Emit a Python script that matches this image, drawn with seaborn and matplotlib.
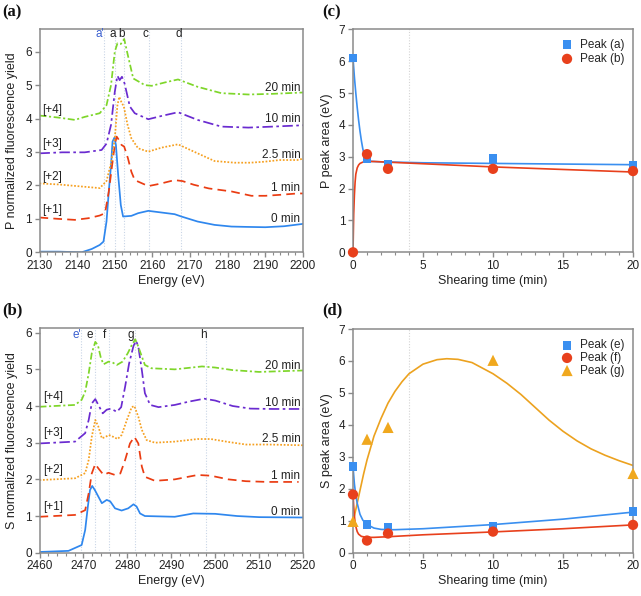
import matplotlib
matplotlib.use("Agg")
import matplotlib.pyplot as plt
import seaborn as sns
import pandas as pd
from matplotlib.ticker import MultipleLocator

# ---------------- data: panel (a) P K-edge spectra (offset already included) -------------
p_e_0 = [2130, 2135, 2141.2, 2143.9, 2146, 2147, 2147.8, 2148.4, 2149, 2149.4, 2149.9, 2150.3,
         2150.9, 2151.6, 2152.2, 2154.4, 2156.2, 2158.9, 2162.4, 2165.9, 2167.7, 2172, 2176.5,
         2181, 2185, 2190, 2195, 2200]
p_y_0 = [0.02, 0.02, 0.0, 0.1, 0.22, 0.32, 0.92, 1.81, 2.61, 3.31, 3.43, 3.21,
         2.31, 1.41, 1.07, 1.09, 1.17, 1.24, 1.19, 1.14, 1.07, 0.92, 0.82,
         0.77, 0.76, 0.75, 0.78, 0.85]

p_e_1 = [2130, 2135, 2139.4, 2143, 2146, 2147.4, 2148.4, 2149.3, 2150, 2150.5, 2151.1, 2151.8,
         2152.5, 2153.5, 2154.4, 2155.3, 2158.9, 2162, 2165.9, 2168, 2171, 2175, 2181, 2186.3,
         2190, 2194, 2198.5, 2200]
p_y_1 = [1.04, 1.0, 0.97, 1.02, 1.1, 1.17, 1.81, 2.61, 3.21, 3.46, 3.36, 3.21,
         3.16, 2.81, 2.41, 2.16, 1.98, 2.05, 2.16, 2.13, 2.02, 1.91, 1.82, 1.69,
         1.69, 1.72, 1.76, 1.76]

p_e_25 = [2130, 2135, 2142, 2146, 2147.8, 2149.1, 2150, 2150.7, 2151.2, 2151.8, 2152.4, 2153.4,
          2154.4, 2156.2, 2158.9, 2162.4, 2166.8, 2172, 2176.5, 2181.8, 2186, 2189.8, 2193.8,
          2198.5, 2200]
p_y_25 = [2.06, 2.03, 1.96, 1.92, 2.13, 2.71, 3.41, 4.4, 4.65, 4.48, 4.36, 3.81,
          3.41, 3.11, 3.01, 3.13, 3.23, 2.96, 2.73, 2.68, 2.68, 2.71, 2.76,
          2.76, 2.8]

p_e_10 = [2130, 2136, 2142, 2146.5, 2147.8, 2149, 2150, 2150.7, 2151.3, 2151.9, 2152.6, 2154,
          2155.3, 2158.9, 2162.5, 2166.8, 2172, 2178.3, 2185.5, 2192, 2200]
p_y_10 = [2.96, 2.99, 2.99, 3.06, 3.25, 3.81, 4.8, 5.28, 5.15, 5.25, 5.05, 4.36,
          4.16, 3.98, 4.08, 4.19, 3.96, 3.76, 3.73, 3.76, 3.8]

p_e_20 = [2130, 2135, 2139.4, 2142, 2146, 2147.8, 2149, 2150, 2150.7, 2151.6, 2152.5, 2153.4,
          2154.9, 2158, 2159.8, 2163.3, 2166.8, 2172, 2178.3, 2185.5, 2192, 2200]
p_y_20 = [4.09, 4.03, 3.96, 4.05, 4.16, 4.4, 5.0, 6.0, 6.25, 6.23, 6.38, 5.93,
          5.2, 5.0, 4.98, 5.08, 5.17, 4.95, 4.76, 4.72, 4.74, 4.78]

# ---------------- data: panel (b) S K-edge spectra -------------
s_e_0 = [2460, 2466.6, 2469.6, 2470.4, 2471, 2471.5, 2472.0, 2472.6, 2473.4, 2474.2, 2475.3,
         2476.1, 2477.2, 2478.7, 2480.2, 2481.4, 2482.1, 2482.9, 2484, 2490.8, 2495, 2500,
         2505, 2510, 2520]
s_y_0 = [0.02, 0.05, 0.21, 0.62, 1.25, 1.71, 1.82, 1.71, 1.53, 1.35, 1.44,
         1.4, 1.21, 1.15, 1.21, 1.32, 1.26, 1.07, 1.0, 0.98, 1.07, 1.06,
         1.0, 0.97, 0.96]

s_e_1 = [2460, 2468.1, 2470.4, 2471.2, 2471.9, 2472.7, 2473.4, 2474.6, 2475.7, 2477.2, 2478.4,
         2479.5, 2480.6, 2481.6, 2482.5, 2483.3, 2484, 2486.3, 2490.8, 2496, 2499, 2503, 2507,
         2512, 2519]
s_y_1 = [0.98, 1.03, 1.16, 1.62, 2.16, 2.42, 2.3, 2.12, 2.18, 2.12, 2.16,
         2.53, 2.98, 3.16, 2.98, 2.35, 2.07, 1.96, 2.0, 2.12, 2.1, 2.0, 1.95,
         1.93, 1.93]

s_e_25 = [2460, 2468.1, 2470.4, 2471.2, 2471.9, 2472.7, 2473.4, 2474.2, 2474.9, 2475.8, 2476.8,
          2477.8, 2478.7, 2479.9, 2481.0, 2481.6, 2482.5, 2483.3, 2484.4, 2486.3, 2490.8, 2496,
          2499, 2503, 2507, 2512, 2520]
s_y_25 = [1.98, 2.03, 2.17, 2.53, 3.16, 3.62, 3.44, 3.12, 3.15, 3.21, 3.16,
          3.1, 3.21, 3.62, 3.97, 4.0, 3.71, 3.35, 3.07, 3.0, 3.03, 3.1,
          3.1, 3.02, 2.95, 2.95, 2.93]

s_e_10 = [2460, 2468.1, 2470.4, 2471.2, 2471.9, 2472.7, 2473.4, 2474.4, 2475.3, 2476.3, 2477.6,
          2478.6, 2479.5, 2480.4, 2481.4, 2482.0, 2482.5, 2483.3, 2484, 2485.2, 2487.1, 2490.8,
          2494, 2497.5, 2500, 2504, 2508, 2513, 2520]
s_y_10 = [2.98, 3.03, 3.26, 3.62, 4.07, 4.19, 4.03, 3.8, 3.9, 3.93, 3.84,
          3.97, 4.53, 5.16, 5.64, 5.78, 5.62, 4.98, 4.35, 4.03, 3.97, 4.03,
          4.12, 4.2, 4.15, 4.0, 3.93, 3.92, 3.92]

s_e_20 = [2460, 2468.1, 2469.6, 2470.4, 2471.2, 2471.9, 2472.7, 2473.3, 2474, 2474.6, 2475.7,
          2476.6, 2477.6, 2478.9, 2480.1, 2481.0, 2481.8, 2482.5, 2483.3, 2484, 2485.5, 2490.8,
          2497, 2500, 2504, 2510, 2520]
s_y_20 = [3.98, 4.03, 4.17, 4.39, 4.89, 5.44, 5.75, 5.66, 5.3, 5.14, 5.21,
          5.19, 5.12, 5.21, 5.44, 5.66, 5.82, 5.62, 5.35, 5.12, 5.03, 5.0,
          5.08, 5.05, 4.98, 4.93, 4.97]

time_labels = ["0 min", "1 min", "2.5 min", "10 min", "20 min"]
offset_labels = ["[+1]", "[+2]", "[+3]", "[+4]"]

p_peak_names = ["a'", "a", "b", "c", "d"]
p_peak_lines = [2147.1, 2150.1, 2152.5, 2159.1, 2167.6]
p_peak_text_x = [2145.9, 2149.4, 2151.8, 2158.2, 2166.9]
s_peak_names = ["e'", "e", "f", "g", "h"]
s_peak_lines = [2469.5, 2472.7, 2475.9, 2481.8, 2498.0]
s_peak_text_x = [2468.5, 2471.5, 2474.9, 2480.7, 2497.4]

# ---------------- data: panel (c) P peak areas -------------
shear_t = [0, 1, 2.5, 10, 20]
peak_a = [6.1, 2.93, 2.75, 2.95, 2.72]
peak_b = [0.0, 3.08, 2.62, 2.62, 2.55]
fit_a_t = [0, 0.1, 0.2, 0.3, 0.4, 0.5, 0.6, 0.7, 0.8, 0.9, 1.0, 1.2, 1.5, 2, 3, 5, 10, 15, 20]
fit_a_y = [6.1, 5.5, 5.0, 4.55, 4.15, 3.8, 3.5, 3.25, 3.07, 2.95, 2.88, 2.86, 2.85, 2.84, 2.83,
           2.81, 2.79, 2.77, 2.75]
fit_b_t = [0, 0.05, 0.1, 0.15, 0.2, 0.3, 0.4, 0.5, 0.7, 1.0, 1.5, 2, 3, 5, 10, 15, 20]
fit_b_y = [0, 1.2, 1.8, 2.2, 2.45, 2.65, 2.74, 2.79, 2.83, 2.85, 2.85, 2.84, 2.82, 2.78, 2.68,
           2.6, 2.52]

# ---------------- data: panel (d) S peak areas -------------
peak_e = [2.7, 0.88, 0.8, 0.83, 1.28]
peak_f = [1.82, 0.38, 0.6, 0.66, 0.87]
peak_g = [0.98, 3.55, 3.92, 6.02, 2.48]
fit_e_t = [0, 0.1, 0.2, 0.3, 0.5, 0.7, 1.0, 1.5, 2.0, 2.5, 3, 5, 10, 15, 20]
fit_e_y = [2.7, 2.15, 1.8, 1.55, 1.2, 1.02, 0.88, 0.77, 0.73, 0.72, 0.72, 0.75, 0.88, 1.05, 1.27]
fit_f_t = [0, 0.05, 0.1, 0.15, 0.2, 0.3, 0.4, 0.6, 1.0, 1.5, 2.5, 5, 10, 15, 20]
fit_f_y = [1.82, 1.45, 1.15, 0.95, 0.82, 0.66, 0.58, 0.51, 0.48, 0.48, 0.5, 0.56, 0.65, 0.75, 0.87]
fit_g_t = [0, 0.25, 0.5, 0.75, 1.0, 1.5, 2, 2.5, 3, 3.5, 4, 5, 6, 6.7, 7.5, 8.5, 10, 11, 12, 13,
           14, 15, 16, 17, 18, 19, 20]
fit_g_y = [0.95, 1.45, 1.95, 2.45, 2.9, 3.65, 4.2, 4.68, 5.05, 5.35, 5.6, 5.9, 6.04, 6.07, 6.05,
           5.95, 5.6, 5.3, 4.95, 4.55, 4.15, 3.8, 3.5, 3.25, 3.05, 2.88, 2.73]

# ---------------- style -------------
sns.set_theme(style="ticks")
plt.rcParams["font.family"] = ["Liberation Sans", "DejaVu Sans"]
plt.rcParams["axes.edgecolor"] = "#8a8a8a"
plt.rcParams["axes.linewidth"] = 1.1
plt.rcParams["xtick.color"] = "#8a8a8a"
plt.rcParams["ytick.color"] = "#8a8a8a"
plt.rcParams["xtick.labelcolor"] = "#222222"
plt.rcParams["ytick.labelcolor"] = "#222222"
plt.rcParams["xtick.labelsize"] = 8.5
plt.rcParams["ytick.labelsize"] = 8.5
plt.rcParams["axes.labelsize"] = 9
plt.rcParams["axes.labelcolor"] = "#222222"

C_BLUE = "#2f87ee"
C_RED = "#ea3c12"
C_ORANGE = "#f6a020"
C_PURPLE = "#6a2bd0"
C_GREEN = "#7ed62a"
C_VLINE = "#c9d5e6"

spec_styles = [
    (C_BLUE, "-"),
    (C_RED, (0, (5, 3))),
    (C_ORANGE, (0, (1, 1))),
    (C_PURPLE, (0, (6, 2, 1.5, 2))),
    (C_GREEN, (0, (4, 1.5, 1.2, 1.5))),
]

fig = plt.figure(figsize=(6.41, 5.96), dpi=100)
W, H = 641.0, 596.0


def add_ax(left, top, right, bottom):
    return fig.add_axes([left / W, 1 - bottom / H, (right - left) / W, (bottom - top) / H])


ax_a = add_ax(39.5, 29.3, 303, 252.3)
ax_c = add_ax(353, 29.3, 633, 252.3)
ax_b = add_ax(39.5, 328.3, 303, 552.7)
ax_d = add_ax(353, 329, 633, 552.7)


def draw_spectra(ax, series, lines, names, text_x, label_y, right_label_y, left_label_y,
                 left_x, right_x):
    for xv in lines:
        ax.axvline(xv, color=C_VLINE, lw=0.8, ls=(0, (1, 1.5)), zorder=0)
    for (ex, ey), (col, ls) in zip(series, spec_styles):
        df = pd.DataFrame({"E": ex, "Y": ey})
        sns.lineplot(data=df, x="E", y="Y", ax=ax, color=col, linewidth=1.25, linestyle=ls,
                     sort=False, errorbar=None)
    for nm, tx in zip(names, text_x):
        col = "#3a5fcf" if "'" in nm else "#222222"
        ax.text(tx, label_y, nm, ha="center", va="center", fontsize=8.5, color=col)
    for lab, yy in zip(time_labels, right_label_y):
        ax.text(right_x, yy, lab, ha="right", va="center", fontsize=8.5, color="#222222")
    for lab, yy in zip(offset_labels, left_label_y):
        ax.text(left_x, yy, lab, ha="left", va="center", fontsize=8.5, color="#222222")


draw_spectra(ax_a,
             [(p_e_0, p_y_0), (p_e_1, p_y_1), (p_e_25, p_y_25), (p_e_10, p_y_10), (p_e_20, p_y_20)],
             p_peak_lines, p_peak_names, p_peak_text_x, 6.53,
             [1.0, 1.91, 2.91, 3.99, 4.9], [1.27, 2.26, 3.24, 4.26], 2130.8, 2199.3)
ax_a.set_xlim(2130, 2200)
ax_a.set_ylim(0, 6.67)
ax_a.xaxis.set_major_locator(MultipleLocator(10))
ax_a.xaxis.set_minor_locator(MultipleLocator(2))
ax_a.yaxis.set_major_locator(MultipleLocator(1))
ax_a.set_xlabel("Energy (eV)", labelpad=2)
ax_a.set_ylabel("P normalized fluorescence yield", labelpad=5)

draw_spectra(ax_b,
             [(s_e_0, s_y_0), (s_e_1, s_y_1), (s_e_25, s_y_25), (s_e_10, s_y_10), (s_e_20, s_y_20)],
             s_peak_lines, s_peak_names, s_peak_text_x, 5.94,
             [1.12, 2.09, 3.1, 4.07, 5.1], [1.25, 2.25, 3.26, 4.25], 2460.8, 2519.4)
ax_b.set_xlim(2460, 2520)
ax_b.set_ylim(0, 6.12)
ax_b.xaxis.set_major_locator(MultipleLocator(10))
ax_b.xaxis.set_minor_locator(MultipleLocator(2))
ax_b.yaxis.set_major_locator(MultipleLocator(1))
ax_b.set_xlabel("Energy (eV)", labelpad=2)
ax_b.set_ylabel("S normalized fluorescence yield", labelpad=5)

C_SQ = "#3a8ff0"
C_CI = "#e8401c"
C_TRI = "#f0a81e"
C_FIT_O = "#eca21f"


def fit_line(ax, tx, ty, col):
    df = pd.DataFrame({"t": tx, "v": ty})
    sns.lineplot(data=df, x="t", y="v", ax=ax, color=col, linewidth=1.2, sort=False,
                 errorbar=None)


def points(ax, ty, marker, col, label, size):
    df = pd.DataFrame({"t": shear_t, "v": ty})
    sns.scatterplot(data=df, x="t", y="v", ax=ax, marker=marker, color=col, s=size,
                    edgecolor="none", linewidth=0, label=label, clip_on=False, zorder=4)


# panel (c)
ax_c.axvline(4, color="#d4d4d4", lw=0.8, ls=(0, (1, 1.5)), zorder=0)
fit_line(ax_c, fit_a_t, fit_a_y, C_SQ)
fit_line(ax_c, fit_b_t, fit_b_y, C_CI)
points(ax_c, peak_a, "s", C_SQ, "Peak (a)", 40)
points(ax_c, peak_b, "o", C_CI, "Peak (b)", 55)
ax_c.set_xlim(0, 20)
ax_c.set_ylim(0, 7)
ax_c.xaxis.set_major_locator(MultipleLocator(5))
ax_c.xaxis.set_minor_locator(MultipleLocator(1))
ax_c.yaxis.set_major_locator(MultipleLocator(1))
ax_c.set_xlabel("Shearing time (min)", labelpad=2)
ax_c.set_ylabel("P peak area (eV)", labelpad=4)
ax_c.legend(frameon=False, loc="upper right", bbox_to_anchor=(0.995, 0.99), fontsize=8.5,
            handletextpad=0.4, handlelength=1.4, labelspacing=0.2, borderaxespad=0.2)

# panel (d)
ax_d.axvline(4, color="#d4d4d4", lw=0.8, ls=(0, (1, 1.5)), zorder=0)
fit_line(ax_d, fit_g_t, fit_g_y, C_FIT_O)
fit_line(ax_d, fit_e_t, fit_e_y, C_SQ)
fit_line(ax_d, fit_f_t, fit_f_y, C_CI)
points(ax_d, peak_e, "s", C_SQ, "Peak (e)", 40)
points(ax_d, peak_f, "o", C_CI, "Peak (f)", 55)
points(ax_d, peak_g, "^", C_TRI, "Peak (g)", 65)
ax_d.set_xlim(0, 20)
ax_d.set_ylim(0, 7)
ax_d.xaxis.set_major_locator(MultipleLocator(5))
ax_d.xaxis.set_minor_locator(MultipleLocator(1))
ax_d.yaxis.set_major_locator(MultipleLocator(1))
ax_d.set_xlabel("Shearing time (min)", labelpad=2)
ax_d.set_ylabel("S peak area (eV)", labelpad=4)
ax_d.legend(frameon=False, loc="upper right", bbox_to_anchor=(0.995, 0.985), fontsize=8.5,
            handletextpad=0.4, handlelength=1.4, labelspacing=0.05, borderaxespad=0.2)

for ax in (ax_a, ax_b, ax_c, ax_d):
    ax.tick_params(which="major", direction="out", length=3.5, width=1.0, pad=2)
    ax.tick_params(which="minor", direction="out", length=2, width=0.8)
    for sp in ax.spines.values():
        sp.set_visible(True)

# panel letters
for lab, (px, py) in {"(a)": (2, 12), "(b)": (2, 310), "(c)": (322, 12), "(d)": (322, 310)}.items():
    fig.text(px / W, 1 - py / H, lab, ha="left", va="center", fontsize=12,
             family=["Liberation Serif", "DejaVu Serif"], fontweight="bold", color="#111111")

fig.savefig("out.png", dpi=100)
